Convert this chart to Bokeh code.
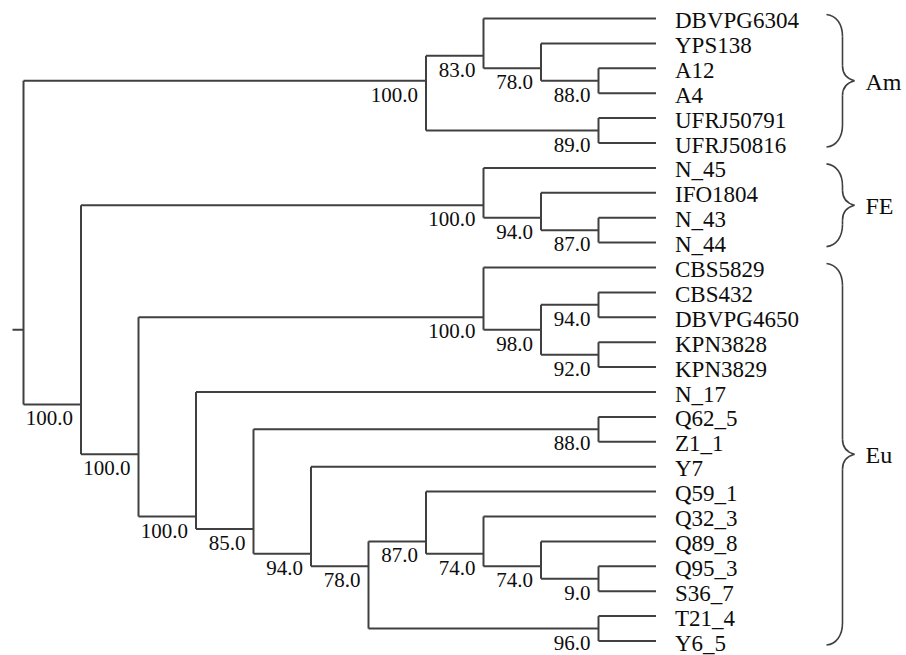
from bokeh.plotting import figure
from bokeh.models import Range1d
from bokeh.core.properties import value
from bokeh.embed import file_html
from bokeh.resources import INLINE

# ---- data -------------------------------------------------------------
NEWICK = ("(((DBVPG6304,(YPS138,(A12,A4)88.0)78.0)83.0,(UFRJ50791,UFRJ50816)89.0)100.0,"
          "((N_45,(IFO1804,(N_43,N_44)87.0)94.0)100.0,"
          "((CBS5829,((CBS432,DBVPG4650)94.0,(KPN3828,KPN3829)92.0)98.0)100.0,"
          "(N_17,((Q62_5,Z1_1)88.0,(Y7,((Q59_1,(Q32_3,(Q89_8,(Q95_3,S36_7)9.0)74.0)74.0)87.0,"
          "(T21_4,Y6_5)96.0)78.0)94.0)85.0)100.0)100.0)100.0);")

group_names = ["Am", "FE", "Eu"]
group_first = ["DBVPG6304", "N_45", "CBS5829"]
group_last = ["UFRJ50816", "N_44", "Y6_5"]

# ---- parse newick -----------------------------------------------------
def parse(s):
    pos = 0

    def label():
        nonlocal pos
        st = pos
        while pos < len(s) and s[pos] not in ",();":
            pos += 1
        return s[st:pos]

    def node():
        nonlocal pos
        if s[pos] == "(":
            pos += 1
            kids = [node()]
            while s[pos] == ",":
                pos += 1
                kids.append(node())
            pos += 1  # ')'
            return {"children": kids, "support": label(), "name": ""}
        return {"children": [], "name": label(), "support": ""}

    return node()

root = parse(NEWICK)

leaves = []

def layout(n):
    if not n["children"]:
        n["idx"] = [len(leaves)]
        leaves.append(n["name"])
        n["h"] = 0
    else:
        n["idx"] = []
        for c in n["children"]:
            layout(c)
            n["idx"] += c["idx"]
        n["h"] = 1 + max(c["h"] for c in n["children"])
    n["y"] = sum(n["idx"]) / len(n["idx"])

layout(root)
H = root["h"]

def setx(n):
    n["x"] = H - n["h"]
    for c in n["children"]:
        setx(c)

setx(root)

# ---- pixel scale of the data units ------------------------------------
W, HT = 906, 655
PXX = 57.5     # px per level
PXY = 24.9     # px per leaf
X0PX = 23.0    # px of level 0
Y0PX = 18.0    # px of leaf 0

p = figure(width=W, height=HT, output_backend="svg", toolbar_location=None,
           x_range=Range1d(-X0PX / PXX, (W - X0PX) / PXX),
           y_range=Range1d((HT - Y0PX) / PXY, -Y0PX / PXY),
           min_border=0)
p.axis.visible = False
p.grid.visible = False
p.outline_line_color = None
p.background_fill_color = "white"
p.border_fill_color = "white"

LC = "#404040"
LW = 2.0
TC = "#0d0d0d"
FONT = value("Liberation Serif")

x0s, y0s, x1s, y1s = [], [], [], []
sup_x, sup_y, sup_t = [], [], []

def walk(n):
    if not n["children"]:
        return
    ys = [c["y"] for c in n["children"]]
    x0s.append(n["x"]); x1s.append(n["x"]); y0s.append(min(ys)); y1s.append(max(ys))
    for c in n["children"]:
        x0s.append(n["x"]); x1s.append(c["x"]); y0s.append(c["y"]); y1s.append(c["y"])
        if c["children"] and c["support"]:
            sup_x.append(c["x"]); sup_y.append(c["y"]); sup_t.append(c["support"])
        walk(c)

walk(root)
# root stub
x0s.append(root["x"] - 11 / PXX); x1s.append(root["x"]); y0s.append(root["y"]); y1s.append(root["y"])

p.segment(x0=x0s, y0=y0s, x1=x1s, y1=y1s, line_color=LC, line_width=LW)

p.text(x=sup_x, y=sup_y, text=sup_t, x_offset=-8, y_offset=14,
       text_align="right", text_baseline="middle", text_font=FONT,
       text_font_size="21px", text_color=TC)

p.text(x=[H] * len(leaves), y=list(range(len(leaves))), text=leaves,
       x_offset=19, y_offset=2, text_align="left", text_baseline="middle",
       text_font=FONT, text_font_size="23px", text_color=TC)

# ---- braces -------------------------------------------------------------
def lx(px):  # px right of level 0 -> data x
    return px / PXX

bx = dict(x0=[], y0=[], x1=[], y1=[], cx0=[], cy0=[], cx1=[], cy1=[])
vs = dict(x0=[], y0=[], x1=[], y1=[])
gl_x, gl_y = [], []
XE, XV, XT = 803.0, 819.0, 831.0   # ends, vertical, tip
R, T = 22.0, 15.0
for g, a, b in zip(group_names, group_first, group_last):
    ia, ib = leaves.index(a), leaves.index(b)
    top = ia - 4 / PXY
    bot = ib + 4 / PXY
    mid = (ia + ib) / 2
    r, t = R / PXY, T / PXY
    for (sx, sy, ex, ey, c0x, c0y, c1x, c1y) in [
        (XE, top, XV, top + r, XE + 10, top + 1 / PXY, XV, top + r * 0.45),
        (XV, mid - t, XT, mid, XV, mid - t * 0.35, XV + 6, mid - 1.5 / PXY),
        (XT, mid, XV, mid + t, XV + 6, mid + 1.5 / PXY, XV, mid + t * 0.35),
        (XV, bot - r, XE, bot, XV, bot - r * 0.45, XE + 10, bot - 1 / PXY),
    ]:
        bx["x0"].append(lx(sx)); bx["y0"].append(sy)
        bx["x1"].append(lx(ex)); bx["y1"].append(ey)
        bx["cx0"].append(lx(c0x)); bx["cy0"].append(c0y)
        bx["cx1"].append(lx(c1x)); bx["cy1"].append(c1y)
    vs["x0"] += [lx(XV), lx(XV)]
    vs["x1"] += [lx(XV), lx(XV)]
    vs["y0"] += [top + r, mid + t]
    vs["y1"] += [mid - t, bot - r]
    gl_x.append(lx(842.0)); gl_y.append(mid)

p.bezier(line_color=LC, line_width=1.6, **bx)
p.segment(line_color=LC, line_width=1.6, **vs)
p.text(x=gl_x, y=gl_y, text=group_names, text_align="left", text_baseline="middle",
       y_offset=1, text_font=FONT, text_font_size="24px", text_color=TC)

open("out.html", "w").write(file_html(p, INLINE))
